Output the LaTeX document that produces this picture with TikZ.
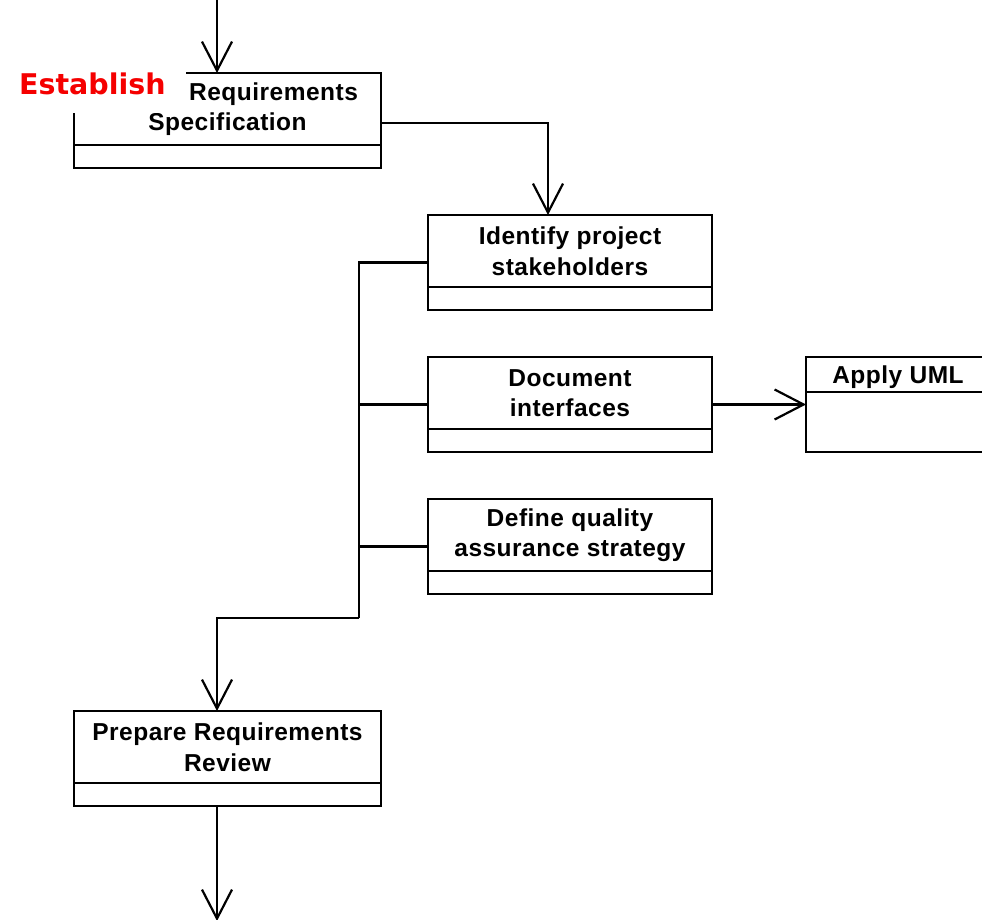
\documentclass[tikz,border=0pt]{standalone}
\usepackage{fontspec}
\usetikzlibrary{arrows.meta}
\newfontfamily\actfont[LetterSpace=2]{Liberation Sans}
\newfontfamily\tagfont{DejaVu Sans}
\begin{document}
\begin{tikzpicture}[x=1pt,y=-1pt,line width=2.2pt,
  actbox/.style={draw, rectangle, inner sep=0pt, outer sep=0pt,
    minimum width=#1, minimum height=95pt},
  acttext/.style={anchor=north, inner sep=0pt, outer sep=0pt,
    minimum height=#1, align=center,
    font=\actfont\bfseries\fontsize{24.5}{30.5}\selectfont},
  flow/.style={-{Straight Barb[length=29pt,width=30pt]}},
]
\useasboundingbox (0,0) rectangle (982,920);
\clip (0,0) rectangle (982,920);

% activity boxes (outer frame)
\node[actbox=307pt] (est)   at (227.5,120.5) {};
\node[actbox=284pt] (ident) at (570,262.5) {};
\node[actbox=284pt] (doc)   at (570,404.5) {};
\node[actbox=284pt] (def)   at (570,546.5) {};
\node[actbox=307pt] (prep)  at (227.5,758.5) {};
\node[actbox=184pt] (uml)   at (898,404.5) {};

% name compartments
\node[acttext=72pt] (est-t)   at (est.north)   {\hspace*{92pt}Requirements\\Specification};
\node[acttext=72pt] (ident-t) at (ident.north) {Identify project\\stakeholders};
\node[acttext=72pt] (doc-t)   at (doc.north)   {Document\\interfaces};
\node[acttext=72pt] (def-t)   at (def.north)   {Define quality\\assurance strategy};
\node[acttext=72pt] (prep-t)  at (prep.north)  {Prepare Requirements\\Review};
\node[acttext=35pt, text depth=0pt] (uml-t) at (uml.north) {Apply UML};

% compartment dividers
\foreach \b in {est,ident,doc,def,prep,uml}
  \draw (\b-t.south -| \b.west) -- (\b-t.south -| \b.east);

% red heading over the first box
\node[fill=white, inner sep=0pt, minimum width=187pt, minimum height=58pt,
      anchor=south east, text={rgb,255:red,245;green,0;blue,0},
      font=\tagfont\bfseries\fontsize{28.5}{30}\selectfont] (tag) at (187,114) {Establish};

% connectors
\coordinate (in)   at (217,-2);
\coordinate (bar)  at (359,618);
\coordinate (lane) at (217,618);
\coordinate (out)  at (217,921);

\draw[flow] (in) -- (in |- est.north);
\draw[flow] ([yshift=-2.5pt]est.east) -| ([xshift=-22pt]ident.north);
\draw (ident.west) -- (ident.west -| bar) -- (bar);
\draw (doc.west) -- (doc.west -| bar);
\draw (def.west) -- (def.west -| bar);
\draw[flow] (bar) -- (lane) -- (lane |- prep.north);
\draw[flow] (doc.east) -- (doc.east -| uml.west);
\draw[flow] (prep.south -| out) -- (out);
\end{tikzpicture}
\end{document}
